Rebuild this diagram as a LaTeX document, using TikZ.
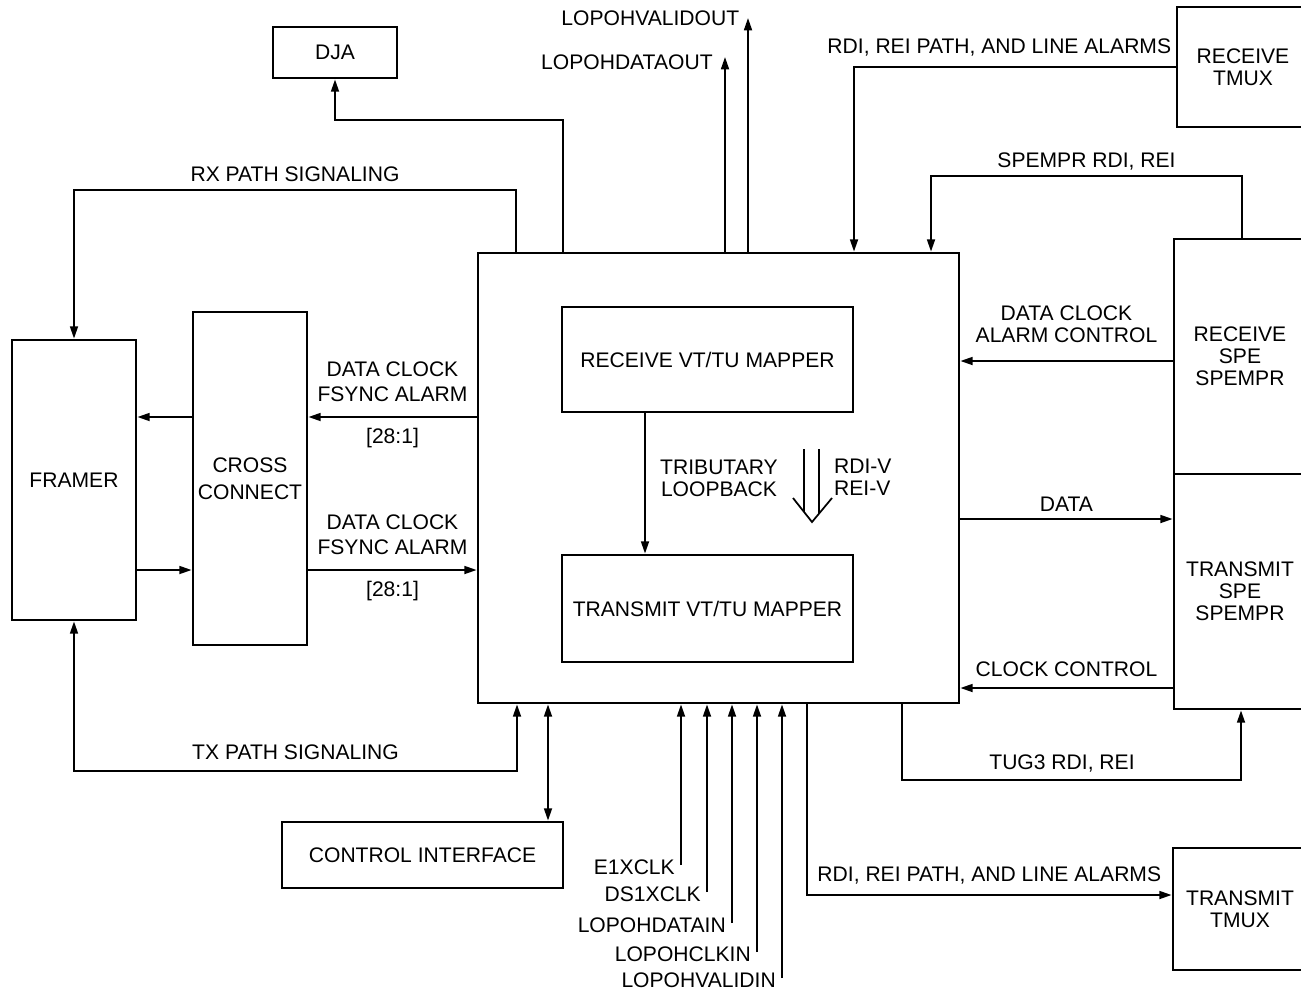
\documentclass[tikz,border=0pt]{standalone}
\usepackage{fontspec}
\setmainfont{Liberation Sans}
\usetikzlibrary{arrows.meta}

\begin{document}
\begin{tikzpicture}[x=0.02cm, y=-0.02cm,
    font=\fontsize{12}{12.5}\selectfont,
    block/.style={draw, line width=1.6pt, align=center, inner sep=0pt},
    lbl/.style={inner sep=1pt, align=center},
    sig/.style={line width=1.1pt, -{Triangle[length=7pt,width=4.5pt]}},
    both/.style={line width=1.1pt, {Triangle[length=7pt,width=4.5pt]}-{Triangle[length=7pt,width=4.5pt]}}]
        \useasboundingbox (0,0) rectangle (1301,994);
        \clip (0,0) rectangle (1301,994);
        \begin{scope}

            \node[block, minimum width=9.62cm, minimum height=9cm] (core) at (718.5,478) {};
            \node[block, minimum width=5.82cm, minimum height=2.1cm] (rxmap) at (707.5,359.5) {RECEIVE VT/TU MAPPER};
            \node[block, minimum width=5.82cm, minimum height=2.14cm] (txmap) at (707.5,608.5) {TRANSMIT VT/TU MAPPER};

            \node[block, minimum width=2.48cm, minimum height=5.6cm] (framer) at (74,480) {FRAMER};
            \node[block, minimum width=2.28cm, minimum height=6.66cm] (xconn) at (250,478.5) {CROSS\\[3pt]CONNECT};
            \node[block, minimum width=2.48cm, minimum height=1.02cm] (dja) at (335,52.5) {DJA};
            \node[block, minimum width=5.62cm, minimum height=1.32cm] (ctrl) at (422.5,855) {CONTROL INTERFACE};

            \node[block, minimum width=2.64cm, minimum height=2.4cm] (rxtmux) at (1243,67) {RECEIVE\\TMUX};
            \node[block, minimum width=2.64cm, minimum height=4.7cm] (rxspe) at (1240,356.5) {RECEIVE\\SPE\\SPEMPR};
            \node[block, minimum width=2.64cm, minimum height=4.7cm] (txspe) at (1240,591.5) {TRANSMIT\\SPE\\SPEMPR};
            \node[block, minimum width=2.68cm, minimum height=2.44cm] (txtmux) at (1240,909) {TRANSMIT\\TMUX};

            % framer <-> cross connect <-> mapper
            \draw[sig] (xconn.west |- 0,417) -- (framer.east |- 0,417);
            \draw[sig] (framer.east |- 0,570) -- (xconn.west |- 0,570);
            \draw[sig] (core.west |- 0,417) -- node[lbl, above=7pt] {DATA CLOCK\\[2pt]FSYNC ALARM} node[lbl, below=5pt] {[28:1]} (xconn.east |- 0,417);
            \draw[sig] (xconn.east |- 0,570) -- node[lbl, above=7pt] {DATA CLOCK\\[2pt]FSYNC ALARM} node[lbl, below=5pt] {[28:1]} (core.west |- 0,570);

            \draw[sig] (core.north -| 516,0) -- (516,190) -| node[lbl, pos=0.25, above=3pt] {RX PATH SIGNALING} (framer.north);
            \draw[both] (framer.south) |- node[lbl, pos=0.75, above=5pt] {TX PATH SIGNALING} (517,771) -- (core.south -| 517,0);
            \draw[sig] (core.north -| 563,0) -- (563,120) -| (dja.south);
            \draw[both] (ctrl.north -| 548,0) -- (core.south -| 548,0);

            % overhead outputs
            \coordinate (dout) at (725,57);
            \coordinate (vout) at (748,18);
            \draw[sig] (core.north -| dout) -- (dout) node[lbl, left=5.5pt, yshift=-2.8pt] (doutlbl) {LOPOHDATAOUT};
            \draw[sig] (core.north -| vout) -- (vout) node[lbl, left=3.5pt] (voutlbl) {LOPOHVALIDOUT};

            % clock and overhead inputs
            \foreach \x/\y/\lab [count=\i] in {681/865/E1XCLK, 707/892/DS1XCLK, 732/923/LOPOHDATAIN, 757/952/LOPOHCLKIN, 782/978/LOPOHVALIDIN}
            {
                \coordinate (in\i) at (\x,\y);
                \draw[sig] (in\i) node[lbl, left=2pt, yshift=-1.5pt] (inlbl\i) {\lab} -- (core.south -| in\i);
            }

            % SPE and TMUX side
            \draw[sig] (rxtmux.west |- 0,67) -| node[lbl, pos=0, anchor=south east, xshift=-1pt, yshift=4.5pt] {RDI, REI PATH, AND LINE ALARMS} (core.north -| 854,0);
            \draw[sig] (rxspe.north -| 1242,0) |- node[lbl, pos=0.75, above=2pt] {SPEMPR RDI, REI} (931,176) -- (core.north -| 931,0);
            \draw[sig] (rxspe.west |- 0,361) -- node[lbl, above=9pt] {DATA CLOCK\\ALARM CONTROL} (core.east |- 0,361);
            \draw[sig] (core.east |- 0,519) -- node[lbl, above=2.5pt] {DATA} (txspe.west |- 0,519);
            \draw[sig] (txspe.west |- 0,688) -- node[lbl, above=5pt] {CLOCK CONTROL} (core.east |- 0,688);
            \draw[sig] (core.south -| 902,0) |- node[lbl, pos=0.736, above=3pt] {TUG3 RDI, REI} (1241,780) -- (txspe.south -| 1241,0);
            \draw[sig] (core.south -| 807,0) |- node[lbl, pos=0.75, above=4.5pt] {RDI, REI PATH, AND LINE ALARMS} (txtmux.west |- 0,895);

            % inside the mapper
            \draw[sig] (rxmap.south -| 645,0) -- (txmap.north -| 645,0);
            \node[lbl] (loop) at (719,478) {TRIBUTARY\\LOOPBACK};
            \draw[line width=1pt] (804,449) -- (804,512) (819,449) -- (819,513.6) (793,498) -- (812,522) -- (832,498);
            \node[lbl, anchor=west, align=left] (rdiv) at (832,477) {RDI-V\\REI-V};

        \end{scope}
    \end{tikzpicture}
\end{document}
